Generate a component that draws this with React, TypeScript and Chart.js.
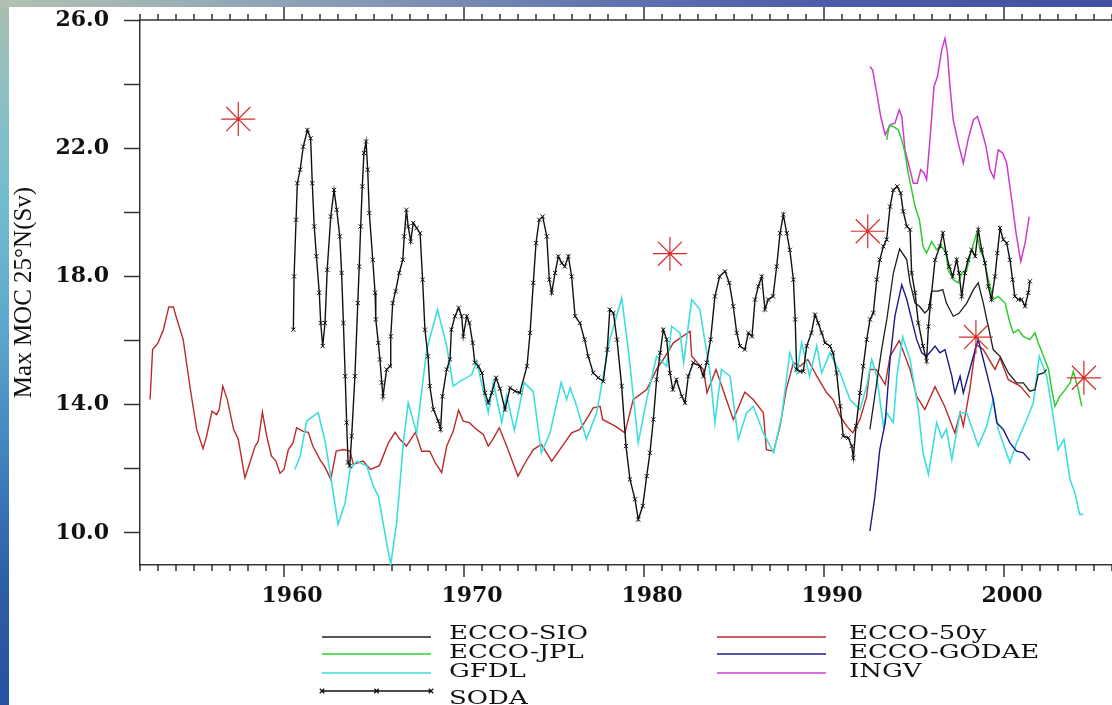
import React, { useEffect, useRef } from 'react';
import { Chart, registerables } from 'chart.js';

Chart.register(...registerables);

// ---------- axes ----------
const X_MIN = 1952;
const X_MAX = 2006;
const Y_MIN = 9;
const Y_MAX = 26;
const xLabelYears = [1960, 1970, 1980, 1990, 2000];
const yTickValues = [10, 12, 14, 16, 18, 20, 22, 24, 26];
const yLabelValues = [10, 14, 18, 22, 26];

// ---------- series ----------
const e50Years = [1952.56, 1952.7, 1953.0, 1953.3, 1953.6, 1953.85, 1954.0, 1954.4, 1954.8, 1955.15, 1955.5, 1955.7, 1956.0, 1956.26, 1956.4, 1956.6, 1956.85, 1957.2, 1957.46, 1957.83, 1958.1, 1958.4, 1958.57, 1958.8, 1959.04, 1959.3, 1959.55, 1959.78, 1960.0, 1960.24, 1960.5, 1960.7, 1961.07, 1961.35, 1961.6, 1962.0, 1962.3, 1962.6, 1962.9, 1963.3, 1963.67, 1963.85, 1964.4, 1964.8, 1965.3, 1965.8, 1966.17, 1966.44, 1966.8, 1967.3, 1967.65, 1968.1, 1968.4, 1968.76, 1969.04, 1969.4, 1969.7, 1969.96, 1970.3, 1970.7, 1971.07, 1971.35, 1971.6, 1971.96, 1972.37, 1973.0, 1973.4, 1973.85, 1974.3, 1974.87, 1975.4, 1975.98, 1976.44, 1976.8, 1977.18, 1977.56, 1977.7, 1978.4, 1978.94, 1979.4, 1980.15, 1980.7, 1981.07, 1981.63, 1982.56, 1982.65, 1983.3, 1983.5, 1984.0, 1984.96, 1985.6, 1986.07, 1986.63, 1986.8, 1987.2, 1987.56, 1987.9, 1988.3, 1988.67, 1989.1, 1989.6, 1990.15, 1990.5, 1990.9, 1991.26, 1991.6, 1992.0, 1992.37, 1992.55, 1992.9, 1993.4, 1993.67, 1994.18, 1994.78, 1995.15, 1995.6, 1996.17, 1996.7, 1997.27, 1997.56, 1997.74, 1998.1, 1998.44, 1998.85, 1999.5, 1999.78, 2000.24, 2000.9, 2001.44];
const e50Values = [14.16, 15.72, 15.93, 16.34, 17.05, 17.05, 16.76, 16.03, 14.47, 13.23, 12.63, 13.02, 13.8, 13.69, 13.85, 14.58, 14.16, 13.23, 12.92, 11.72, 12.19, 12.71, 12.86, 13.77, 13.02, 12.4, 12.24, 11.86, 11.98, 12.6, 12.81, 13.28, 13.17, 13.14, 12.71, 12.29, 12.03, 11.67, 12.55, 12.6, 12.55, 12.14, 12.24, 11.98, 12.1, 12.81, 13.14, 12.92, 12.71, 13.14, 12.55, 12.55, 12.19, 11.88, 12.71, 13.17, 13.83, 13.49, 13.44, 13.23, 13.07, 12.71, 12.92, 13.28, 12.71, 11.77, 12.19, 12.6, 12.76, 12.24, 12.66, 13.12, 13.23, 13.54, 13.9, 13.95, 13.54, 13.33, 13.12, 14.16, 14.47, 15.1, 15.41, 15.93, 16.29, 15.51, 15.1, 14.37, 15.1, 13.54, 14.39, 14.16, 13.75, 12.6, 12.55, 13.33, 14.47, 15.31, 15.2, 15.41, 14.89, 14.37, 14.16, 13.64, 13.33, 13.12, 13.54, 14.26, 15.1, 15.1, 14.63, 15.51, 16.0, 15.1, 14.26, 13.85, 14.56, 13.95, 13.12, 13.75, 13.33, 14.47, 15.88, 15.72, 15.1, 15.46, 14.78, 14.58, 14.22];

const gfdlYears = [1960.6, 1960.9, 1961.26, 1961.9, 1962.3, 1962.65, 1963.0, 1963.4, 1963.67, 1964.04, 1964.6, 1964.96, 1965.24, 1965.7, 1965.93, 1966.26, 1966.63, 1966.9, 1967.37, 1967.93, 1968.53, 1969.04, 1969.4, 1969.78, 1970.43, 1970.7, 1971.35, 1971.63, 1972.1, 1972.37, 1972.8, 1973.35, 1973.85, 1974.3, 1974.78, 1975.4, 1975.7, 1975.9, 1976.26, 1976.8, 1977.37, 1978.1, 1978.76, 1979.13, 1979.68, 1980.15, 1980.7, 1981.26, 1981.54, 1982.0, 1982.2, 1982.65, 1983.1, 1983.67, 1983.94, 1984.3, 1984.78, 1985.24, 1985.7, 1986.07, 1986.63, 1987.2, 1987.65, 1988.1, 1988.48, 1988.76, 1989.2, 1989.6, 1989.87, 1990.33, 1990.9, 1991.44, 1992.0, 1992.37, 1992.65, 1992.93, 1993.3, 1993.48, 1993.85, 1994.07, 1994.37, 1994.78, 1995.24, 1995.5, 1995.8, 1996.26, 1996.54, 1996.8, 1997.1, 1997.56, 1997.93, 1998.57, 1999.04, 1999.4, 1999.68, 2000.33, 2000.7, 2001.26, 2001.63, 2001.96, 2002.37, 2002.65, 2003.0, 2003.33, 2003.67, 2003.94, 2004.2, 2004.4];
const gfdlValues = [11.98, 12.4, 13.49, 13.75, 12.81, 11.56, 10.27, 10.94, 11.98, 12.24, 12.09, 11.46, 11.15, 9.7, 9.02, 10.32, 12.81, 14.06, 13.12, 15.72, 16.97, 15.83, 14.58, 14.73, 14.94, 15.36, 13.75, 14.69, 13.44, 14.3, 13.2, 14.69, 14.4, 12.5, 13.12, 14.69, 14.16, 14.53, 13.95, 12.92, 13.75, 16.03, 17.33, 15.72, 12.81, 14.16, 15.51, 15.2, 16.44, 16.24, 15.31, 17.28, 16.97, 14.99, 13.44, 15.1, 14.89, 12.92, 13.75, 13.95, 13.12, 12.5, 13.64, 15.62, 14.99, 15.93, 14.89, 15.83, 14.99, 15.62, 14.99, 14.16, 13.85, 14.58, 15.41, 14.89, 13.33, 13.75, 13.44, 14.99, 16.11, 15.41, 13.85, 12.5, 11.83, 13.44, 12.97, 13.23, 12.29, 13.75, 13.75, 12.71, 13.33, 14.16, 13.23, 12.19, 12.81, 13.54, 14.06, 15.51, 14.89, 13.95, 12.6, 12.92, 11.67, 11.25, 10.58, 10.58];

const sodaYears = [1960.52, 1960.56, 1960.67, 1960.74, 1960.9, 1961.07, 1961.3, 1961.48, 1961.57, 1961.68, 1961.8, 1961.96, 1962.04, 1962.15, 1962.28, 1962.4, 1962.6, 1962.78, 1962.93, 1963.1, 1963.2, 1963.3, 1963.4, 1963.48, 1963.56, 1963.65, 1963.76, 1963.94, 1964.1, 1964.18, 1964.26, 1964.35, 1964.44, 1964.56, 1964.65, 1964.74, 1964.93, 1965.06, 1965.1, 1965.24, 1965.33, 1965.43, 1965.5, 1965.7, 1965.89, 1965.93, 1966.04, 1966.2, 1966.4, 1966.6, 1966.68, 1966.8, 1966.9, 1967.04, 1967.18, 1967.37, 1967.56, 1967.7, 1967.83, 1968.0, 1968.1, 1968.3, 1968.57, 1968.7, 1968.8, 1969.04, 1969.22, 1969.3, 1969.5, 1969.7, 1969.87, 1969.96, 1970.15, 1970.3, 1970.48, 1970.6, 1970.8, 1971.0, 1971.17, 1971.35, 1971.54, 1971.78, 1972.0, 1972.28, 1972.56, 1972.83, 1973.1, 1973.5, 1973.67, 1973.85, 1974.0, 1974.18, 1974.37, 1974.6, 1974.74, 1974.87, 1975.06, 1975.24, 1975.43, 1975.6, 1975.8, 1975.98, 1976.17, 1976.44, 1976.7, 1976.9, 1977.18, 1977.46, 1977.74, 1977.96, 1978.1, 1978.3, 1978.5, 1978.76, 1979.0, 1979.22, 1979.5, 1979.68, 1979.93, 1980.15, 1980.33, 1980.52, 1980.7, 1980.9, 1981.07, 1981.26, 1981.44, 1981.6, 1981.8, 1982.1, 1982.28, 1982.46, 1982.74, 1983.1, 1983.3, 1983.48, 1983.7, 1983.94, 1984.2, 1984.5, 1984.74, 1984.96, 1985.15, 1985.33, 1985.6, 1985.8, 1986.0, 1986.17, 1986.35, 1986.54, 1986.72, 1986.9, 1987.17, 1987.37, 1987.56, 1987.74, 1987.93, 1988.1, 1988.3, 1988.4, 1988.48, 1988.67, 1988.85, 1989.04, 1989.3, 1989.5, 1989.68, 1989.87, 1990.06, 1990.33, 1990.5, 1990.7, 1990.9, 1991.07, 1991.35, 1991.54, 1991.63, 1991.78, 1992.0, 1992.18, 1992.37, 1992.56, 1992.74, 1992.93, 1993.1, 1993.3, 1993.48, 1993.67, 1993.85, 1994.07, 1994.26, 1994.4, 1994.6, 1994.78, 1994.87, 1995.06, 1995.24, 1995.5, 1995.7, 1995.8, 1995.9, 1996.17, 1996.44, 1996.6, 1996.78, 1996.96, 1997.15, 1997.37, 1997.5, 1997.65, 1997.83, 1998.0, 1998.2, 1998.4, 1998.57, 1998.76, 1998.94, 1999.13, 1999.3, 1999.5, 1999.63, 1999.78, 1999.96, 2000.15, 2000.33, 2000.48, 2000.6, 2000.8, 2000.98, 2001.17, 2001.35, 2001.44];
const sodaValues = [16.34, 18.0, 19.77, 20.91, 21.33, 22.05, 22.57, 22.31, 20.91, 19.56, 18.63, 17.49, 16.55, 15.83, 16.55, 18.21, 19.87, 20.7, 20.08, 19.25, 18.11, 16.55, 14.89, 13.44, 12.2, 12.09, 13.02, 14.89, 17.17, 18.31, 19.56, 20.81, 21.85, 22.21, 21.33, 19.98, 18.52, 17.49, 16.66, 15.93, 15.41, 14.69, 14.26, 15.1, 15.2, 16.13, 17.17, 17.54, 18.11, 18.52, 19.25, 20.08, 19.56, 19.09, 19.67, 19.51, 19.35, 17.9, 16.34, 15.51, 14.58, 13.85, 13.49, 13.23, 14.26, 15.1, 15.41, 16.34, 16.76, 17.02, 16.76, 16.13, 16.76, 16.55, 15.93, 15.31, 15.2, 14.99, 14.37, 14.06, 14.37, 14.84, 14.5, 13.85, 14.53, 14.42, 14.37, 15.2, 16.24, 17.8, 19.04, 19.77, 19.87, 19.25, 17.9, 17.49, 18.11, 18.63, 18.42, 18.31, 18.63, 18.0, 16.76, 16.55, 16.03, 15.51, 14.99, 14.84, 14.73, 15.72, 16.97, 16.86, 16.03, 14.58, 12.71, 11.67, 11.05, 10.42, 10.84, 11.77, 12.5, 13.54, 14.78, 15.62, 16.34, 16.03, 14.99, 14.47, 14.78, 14.26, 14.06, 14.89, 15.31, 15.2, 14.89, 15.31, 16.03, 17.38, 18.0, 18.16, 17.8, 17.07, 16.24, 15.83, 15.72, 16.24, 16.13, 17.28, 17.69, 18.0, 16.97, 17.28, 17.38, 18.31, 19.35, 19.93, 19.35, 18.83, 17.9, 16.66, 15.1, 15.04, 15.04, 15.83, 16.24, 16.81, 16.55, 16.24, 15.93, 15.83, 15.62, 14.99, 13.95, 13.02, 12.97, 12.71, 12.34, 13.33, 14.37, 15.2, 16.03, 16.66, 16.86, 17.9, 18.52, 18.94, 19.15, 20.18, 20.7, 20.81, 20.6, 20.03, 19.56, 19.46, 18.11, 17.49, 16.55, 15.83, 15.36, 16.44, 17.07, 18.52, 18.94, 19.35, 18.73, 18.31, 18.0, 18.52, 18.11, 17.38, 18.11, 18.52, 18.83, 18.63, 19.46, 18.83, 18.42, 17.69, 17.28, 18.0, 18.73, 19.51, 19.15, 19.04, 18.52, 17.9, 17.38, 17.28, 17.28, 17.07, 17.49, 17.85];

const sioYears = [1992.55, 1992.93, 1993.2, 1993.5, 1993.85, 1994.2, 1994.6, 1994.78, 1995.06, 1995.3, 1995.6, 1995.8, 1995.98, 1996.35, 1996.6, 1996.8, 1997.18, 1997.5, 1997.93, 1998.3, 1998.57, 1998.85, 1999.04, 1999.13, 1999.4, 1999.78, 2000.24, 2000.7, 2001.07, 2001.44, 2001.72, 2001.9, 2002.2, 2002.37];
const sioValues = [13.23, 14.69, 15.72, 16.7, 18.1, 18.86, 18.52, 17.8, 17.17, 17.07, 16.86, 16.97, 17.54, 17.54, 17.59, 17.17, 16.76, 16.85, 17.17, 17.59, 17.8, 17.17, 16.66, 16.44, 15.72, 15.51, 14.99, 14.68, 14.68, 14.42, 14.47, 14.94, 14.99, 15.1];

const jplYears = [1993.48, 1993.63, 1993.85, 1994.13, 1994.32, 1994.5, 1994.68, 1994.87, 1995.06, 1995.3, 1995.5, 1995.7, 1995.98, 1996.26, 1996.54, 1996.78, 1996.9, 1997.18, 1997.46, 1997.65, 1997.93, 1998.2, 1998.48, 1998.67, 1998.9, 1999.13, 1999.4, 1999.68, 2000.06, 2000.33, 2000.52, 2000.8, 2001.07, 2001.44, 2001.72, 2001.9, 2002.2, 2002.48, 2002.65, 2002.83, 2003.1, 2003.4, 2003.67, 2003.85, 2004.13, 2004.32];
const jplValues = [22.26, 22.7, 22.68, 22.57, 22.26, 21.85, 21.22, 20.7, 20.18, 19.77, 18.94, 18.73, 19.09, 18.83, 18.94, 18.73, 18.21, 17.9, 17.8, 18.11, 18.21, 18.83, 19.35, 18.83, 18.52, 17.9, 17.28, 17.38, 17.17, 16.55, 16.24, 16.34, 16.13, 16.03, 16.24, 15.93, 15.51, 15.1, 14.47, 13.95, 14.26, 14.47, 14.68, 15.04, 14.47, 13.95];

const ingvYears = [1992.55, 1992.7, 1992.93, 1993.15, 1993.4, 1993.67, 1993.94, 1994.18, 1994.32, 1994.5, 1994.78, 1994.96, 1995.18, 1995.37, 1995.56, 1995.7, 1995.93, 1996.11, 1996.3, 1996.54, 1996.72, 1996.85, 1997.0, 1997.18, 1997.46, 1997.74, 1998.0, 1998.3, 1998.52, 1998.76, 1999.0, 1999.22, 1999.44, 1999.68, 1999.93, 2000.15, 2000.43, 2000.67, 2000.93, 2001.17, 2001.4];
const ingvValues = [24.55, 24.44, 23.72, 22.99, 22.42, 22.73, 22.78, 23.2, 22.99, 21.95, 21.33, 20.91, 20.91, 21.33, 21.22, 21.02, 22.57, 23.92, 24.23, 25.07, 25.43, 25.01, 23.92, 22.88, 22.16, 21.53, 22.26, 22.88, 22.99, 22.57, 22.05, 21.33, 21.07, 21.95, 21.85, 21.53, 20.39, 19.35, 18.47, 19.04, 19.87];

const godaeYears = [1992.55, 1992.83, 1993.1, 1993.4, 1993.67, 1993.94, 1994.32, 1994.6, 1994.87, 1995.15, 1995.43, 1995.7, 1996.17, 1996.44, 1996.72, 1997.1, 1997.27, 1997.56, 1997.74, 1998.1, 1998.4, 1998.57, 1998.85, 1999.13, 1999.4, 1999.6, 1999.96, 2000.33, 2000.7, 2001.07, 2001.44];
const godaeValues = [10.06, 11.15, 12.6, 13.44, 15.41, 16.76, 17.74, 17.28, 16.66, 16.03, 15.62, 15.51, 15.83, 15.62, 15.72, 14.89, 14.37, 14.89, 14.37, 15.1, 15.72, 16.03, 15.41, 14.78, 14.16, 13.44, 13.23, 12.81, 12.55, 12.5, 12.27];

const starYears = [1957.46, 1981.44, 1992.43, 1998.44, 2004.44];
const starValues = [22.91, 18.71, 19.41, 16.11, 14.84];

// ---------- styles ----------
const AXIS = '#333333';
const C_SIO = '#1e1e1e';
const C_JPL = '#2ecc2e';
const C_GFDL = '#3fdede';
const C_SODA = '#111111';
const C_50Y = '#bb2a2a';
const C_GODAE = '#1a1a8c';
const C_INGV = '#cc3ccc';
const C_STAR = '#d62b2b';

const legendItems = [
  { label: 'ECCO-SIO', col: 0, row: 0 },
  { label: 'ECCO-JPL', col: 0, row: 1 },
  { label: 'GFDL', col: 0, row: 2 },
  { label: 'SODA', col: 0, row: 3 },
  { label: 'ECCO-50y', col: 1, row: 0 },
  { label: 'ECCO-GODAE', col: 1, row: 1 },
  { label: 'INGV', col: 1, row: 2 },
];

function pts(xs: number[], ys: number[]) {
  return xs.map((x, i) => ({ x, y: ys[i] }));
}

function drawX(ctx: CanvasRenderingContext2D, x: number, y: number, r: number) {
  ctx.moveTo(x - r, y - r);
  ctx.lineTo(x + r, y + r);
  ctx.moveTo(x - r, y + r);
  ctx.lineTo(x + r, y - r);
}

const decorPlugin = {
  id: 'mocDecor',
  afterDraw(chart: any) {
    const ctx: CanvasRenderingContext2D = chart.ctx;
    const ca = chart.chartArea;
    const xs = chart.scales.x;
    ctx.save();
    // top axis line and x tick marks (top + bottom)
    ctx.strokeStyle = AXIS;
    ctx.lineWidth = 1.5;
    ctx.beginPath();
    ctx.moveTo(ca.left, ca.top);
    ctx.lineTo(ca.right, ca.top);
    for (let yr = X_MIN; yr <= X_MAX; yr++) {
      const px = xs.getPixelForValue(yr);
      const major = yr % 10 === 0;
      ctx.moveTo(px, ca.bottom);
      ctx.lineTo(px, ca.bottom + (major ? 12 : 6));
      ctx.moveTo(px, ca.top);
      ctx.lineTo(px, ca.top - (major ? 13 : 6));
    }
    ctx.stroke();

    // legend
    ctx.font = '19px "DejaVu Serif"';
    const sx = 139 / ctx.measureText('ECCO-SIO').width;
    const cols = [
      { x0: 313, x1: 422, tx: 440 },
      { x0: 708, x1: 817, tx: 840 },
    ];
    const lineY = [630, 647, 666, 684];
    const textY = [632, 651, 670, 697];
    for (const item of legendItems) {
      const ds = chart.data.datasets.find((d: any) => d.label === item.label);
      if (!ds) continue;
      const c = cols[item.col];
      const y = lineY[item.row];
      ctx.strokeStyle = ds.borderColor;
      ctx.lineWidth = 1.3;
      ctx.beginPath();
      ctx.moveTo(c.x0, y);
      ctx.lineTo(c.x1, y);
      if (item.label === 'SODA') {
        drawX(ctx, c.x0, y, 2.2);
        drawX(ctx, (c.x0 + c.x1) / 2, y, 2.2);
        drawX(ctx, c.x1, y, 2.2);
      }
      ctx.stroke();
      ctx.fillStyle = '#111';
      ctx.textBaseline = 'alphabetic';
      ctx.textAlign = 'left';
      ctx.save();
      ctx.translate(c.tx, textY[item.row]);
      ctx.scale(sx, 1);
      ctx.fillText(item.label, 0, 0);
      ctx.restore();
    }
    ctx.restore();
  },
};

const tickFont = { family: '"DejaVu Serif"', size: 22, weight: 'bold' as const, lineHeight: 1 };

export default function App() {
  const ref = useRef<HTMLCanvasElement | null>(null);

  useEffect(() => {
    if (!ref.current) return;
    const line = (label: string, xs: number[], ys: number[], color: string, width: number) => ({
      type: 'line' as const,
      label,
      data: pts(xs, ys),
      borderColor: color,
      backgroundColor: color,
      borderWidth: width,
      pointRadius: 0,
      tension: 0,
      fill: false,
    });
    const chart = new Chart(ref.current, {
      type: 'line',
      data: {
        datasets: [
          {
            type: 'line',
            label: 'Bryden',
            data: pts(starYears, starValues),
            showLine: false,
            pointStyle: 'star',
            pointRadius: 17,
            pointBorderWidth: 1.2,
            borderColor: C_STAR,
            backgroundColor: C_STAR,
            clip: false,
          },
          {
            ...line('SODA', sodaYears, sodaValues, C_SODA, 1.4),
            pointStyle: 'crossRot',
            pointRadius: 3,
            pointBorderWidth: 1,
            pointBorderColor: C_SODA,
          },
          line('ECCO-SIO', sioYears, sioValues, C_SIO, 1.3),
          line('ECCO-JPL', jplYears, jplValues, C_JPL, 1.5),
          line('INGV', ingvYears, ingvValues, C_INGV, 1.5),
          line('ECCO-GODAE', godaeYears, godaeValues, C_GODAE, 1.4),
          line('GFDL', gfdlYears, gfdlValues, C_GFDL, 1.6),
          line('ECCO-50y', e50Years, e50Values, C_50Y, 1.4),
        ] as any,
      },
      options: {
        animation: false,
        responsive: false,
        events: [],
        layout: { autoPadding: false, padding: { top: 13, left: 0, right: 0, bottom: 0 } },
        plugins: { legend: { display: false }, tooltip: { enabled: false } },
        scales: {
          x: {
            type: 'linear',
            position: 'bottom',
            min: X_MIN,
            max: X_MAX,
            grid: { display: false, drawTicks: false },
            border: { display: true, color: AXIS, width: 1.5 },
            afterBuildTicks: (s: any) => {
              s.ticks = xLabelYears.map((v) => ({ value: v }));
            },
            ticks: {
              autoSkip: false,
              maxRotation: 0,
              padding: 20,
              labelOffset: 8,
              color: '#111',
              font: tickFont,
              callback: (v: any) => String(v),
            },
            afterFit: (s: any) => {
              s.height = 140;
              s.paddingLeft = 0;
              s.paddingRight = 0;
            },
          },
          y: {
            type: 'linear',
            min: Y_MIN,
            max: Y_MAX,
            grid: {
              display: true,
              drawOnChartArea: false,
              drawTicks: true,
              tickLength: 16,
              tickColor: AXIS,
              tickWidth: 1.5,
            },
            border: { display: true, color: AXIS, width: 1.5 },
            afterBuildTicks: (s: any) => {
              s.ticks = yTickValues.map((v) => ({ value: v }));
            },
            ticks: {
              autoSkip: false,
              padding: 15,
              color: '#111',
              font: tickFont,
              callback: (v: any) => (yLabelValues.includes(Number(v)) ? Number(v).toFixed(1) : ''),
            },
            title: {
              display: true,
              text: 'Max MOC 25°N(Sv)',
              color: '#111',
              font: { family: '"Liberation Serif"', size: 25 },
              padding: 0,
            },
            afterFit: (s: any) => {
              s.width = 131;
              s.paddingTop = 0;
              s.paddingBottom = 0;
            },
          },
        },
      } as any,
      plugins: [decorPlugin],
    });
    return () => chart.destroy();
  }, []);

  return (
    <div
      style={{
        position: 'fixed',
        inset: 0,
        overflow: 'hidden',
        background:
          'linear-gradient(180deg, #a9bfae 0%, #8cbfc4 14%, #6fbcd0 30%, #5aa6cc 48%, #3f80bc 66%, #2e5ea8 82%, #2a50a0 100%)',
      }}
    >
      <div
        style={{
          position: 'absolute',
          left: 0,
          top: 0,
          width: 1112,
          height: 7,
          background:
            'linear-gradient(90deg, #b2c2b0 0%, #9eb0b6 15%, #8494b4 35%, #6272ae 55%, #4c5ca8 75%, #4450a2 100%)',
        }}
      />
      <div style={{ position: 'absolute', left: 9, top: 7, width: 1103, height: 698, background: '#ffffff' }}>
        <canvas ref={ref} width={1103} height={698} style={{ display: 'block', width: 1103, height: 698 }} />
      </div>
    </div>
  );
}
